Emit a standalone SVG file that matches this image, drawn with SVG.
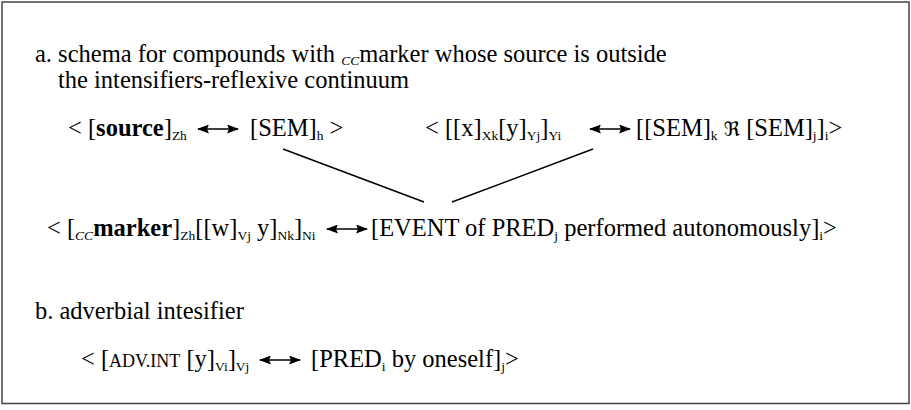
<svg xmlns="http://www.w3.org/2000/svg" width="911" height="410" viewBox="0 0 911 410">
<style>
.t{font-family:'Liberation Serif','DejaVu Serif',serif;font-size:24.5px;fill:#000}
.b{font-weight:bold}
.s{font-size:13.5px}
.sc{font-size:18px}
.i{font-style:italic}
.fr{font-family:'DejaVu Serif','DejaVu Sans',serif;font-size:20px}
.c{stroke:#000;stroke-width:1.5;fill:none}
.ar{stroke:#000;stroke-width:1.7;fill:none;marker-start:url(#ah);marker-end:url(#ah)}
</style>
<defs>
<marker id="ah" viewBox="0 0 12 9" refX="11" refY="4.5" markerWidth="12" markerHeight="9" markerUnits="userSpaceOnUse" orient="auto-start-reverse">
<path d="M0,0 L12,4.5 L0,9 L2,4.5 Z" fill="#000"/>
</marker>
</defs>
<rect x="2" y="2" width="907" height="401.5" fill="#fff" stroke="#444" stroke-width="1.5"/>
<g id="heading-a">
<text class="t" x="35" y="62">a. schema for compounds with <tspan class="s i" dy="3">CC</tspan><tspan dy="-3">marker whose source is outside</tspan></text>
<text class="t" x="58" y="88">the intensifiers-reflexive continuum</text>
</g>
<g id="node-source">
<text class="t" x="68" y="136">&lt; [<tspan class="b">source</tspan>]<tspan class="s" dy="4">Zh</tspan></text>
<path class="ar" d="M198,129 H238"/>
<text class="t" x="250" y="136">[SEM]<tspan class="s" dy="4">h</tspan><tspan dy="-4"> &gt;</tspan></text>
</g>
<g id="node-xy">
<text class="t" x="425" y="136">&lt; [[x]<tspan class="s" dy="4">Xk</tspan><tspan dy="-4">[y]</tspan><tspan class="s" dy="4">Yj</tspan><tspan dy="-4">]</tspan><tspan class="s" dy="4">Yi</tspan></text>
<path class="ar" d="M590,129 H630"/>
<text class="t" x="636" y="136">[[SEM]<tspan class="s" dy="4">k</tspan><tspan dy="-4"> </tspan><tspan class="fr">ℜ</tspan> [SEM]<tspan class="s" dy="4">j</tspan><tspan dy="-4">]</tspan><tspan class="s" dy="4">i</tspan><tspan dy="-4">&gt;</tspan></text>
</g>
<g id="connectors">
<line class="c" x1="283" y1="149" x2="424" y2="202"/>
<line class="c" x1="593" y1="149" x2="452" y2="202"/>
</g>
<g id="node-marker">
<text class="t" x="47" y="236">&lt; [<tspan class="s i" dy="4">CC</tspan><tspan class="b" dy="-4">marker</tspan>]<tspan class="s" dy="4">Zh</tspan><tspan dy="-4">[[w]</tspan><tspan class="s" dy="4">Vj</tspan><tspan dy="-4"> y]</tspan><tspan class="s" dy="4">Nk</tspan><tspan dy="-4">]</tspan><tspan class="s" dy="4">Ni</tspan></text>
<path class="ar" d="M327,229 H367"/>
<text class="t" x="371" y="236">[EVENT of PRED<tspan class="s" dy="4">j</tspan><tspan dy="-4"> performed autonomously]</tspan><tspan class="s" dy="4">i</tspan><tspan dy="-4">&gt;</tspan></text>
</g>
<g id="heading-b">
<text class="t" x="35" y="319">b. adverbial intesifier</text>
</g>
<g id="node-adv">
<text class="t" x="81" y="367">&lt; [<tspan class="sc">ADV.INT</tspan> [y]<tspan class="s" dy="4">Vi</tspan><tspan dy="-4">]</tspan><tspan class="s" dy="4">Vj</tspan></text>
<path class="ar" d="M260,360 H300"/>
<text class="t" x="311" y="367">[PRED<tspan class="s" dy="4">i</tspan><tspan dy="-4"> by oneself]</tspan><tspan class="s" dy="4">j</tspan><tspan dy="-4">&gt;</tspan></text>
</g>
</svg>
